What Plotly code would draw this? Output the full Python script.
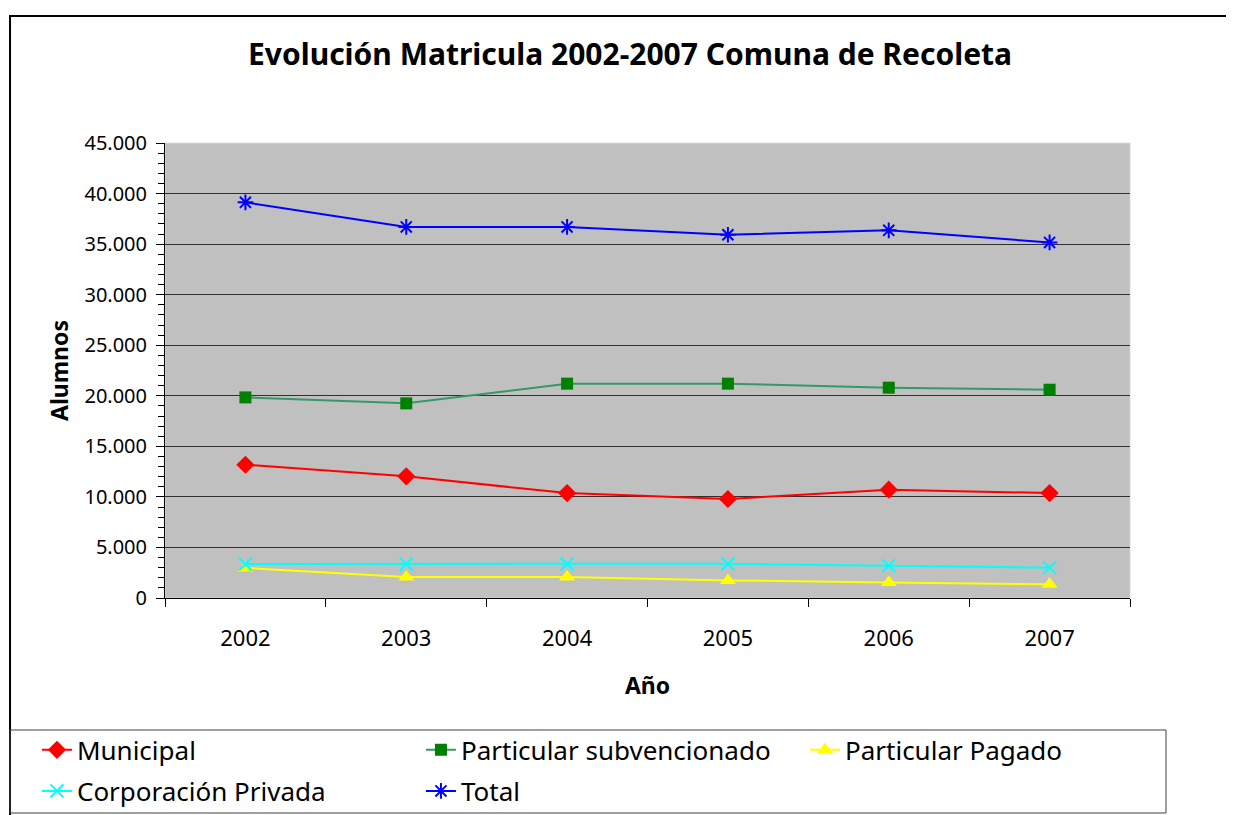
import plotly.graph_objects as go

years = ["2002", "2003", "2004", "2005", "2006", "2007"]
municipal = [13180, 12030, 10380, 9790, 10710, 10380]
subvencionado = [19840, 19250, 21200, 21200, 20800, 20600]
pagado = [2970, 2080, 2080, 1740, 1540, 1350]
corporacion = [3360, 3360, 3360, 3390, 3200, 3000]
total = [39130, 36700, 36700, 35930, 36360, 35170]

y_ticks = [0, 5000, 10000, 15000, 20000, 25000, 30000, 35000, 40000, 45000]

font_family = "Noto Sans, Lato, sans-serif"

fig = go.Figure()

fig.add_trace(go.Scatter(x=years, y=municipal, name="Municipal", mode="lines+markers",
    line=dict(color="#FF0000", width=2), legend="legend",
    marker=dict(symbol="diamond", size=14, color="#FF0000")))
fig.add_trace(go.Scatter(x=years, y=subvencionado, name="Particular subvencionado", mode="lines+markers",
    line=dict(color="#339966", width=2), legend="legend",
    marker=dict(symbol="square", size=12, color="#008000")))
fig.add_trace(go.Scatter(x=years, y=pagado, name="Particular Pagado", mode="lines+markers",
    line=dict(color="#FFFF00", width=2), legend="legend3",
    marker=dict(symbol="triangle-up", size=14, color="#FFFF00")))
fig.add_trace(go.Scatter(x=years, y=corporacion, name="Corporación Privada", mode="lines+markers",
    line=dict(color="#00FFFF", width=2), legend="legend2",
    marker=dict(symbol="x-thin-open", size=13, color="#00FFFF", line=dict(width=2, color="#00FFFF"))))
fig.add_trace(go.Scatter(x=years, y=total, name="Total", mode="lines+markers",
    line=dict(color="#0000FF", width=2), legend="legend2",
    marker=dict(symbol="asterisk-open", size=13, color="#0000FF", line=dict(width=2, color="#0000FF"))))

legend_style = dict(orientation="h", xanchor="left", yanchor="middle",
    entrywidth=339, entrywidthmode="pixels", borderwidth=0, bgcolor="rgba(0,0,0,0)",
    font=dict(size=26))

fig.update_layout(
    width=1226, height=807,
    margin=dict(l=157, r=104, t=135, b=217, autoexpand=False),
    paper_bgcolor="white",
    plot_bgcolor="#C0C0C0",
    separators=",.",
    font=dict(family=font_family, color="black", size=20),
    title=dict(text="<b>Evolución Matricula 2002-2007 Comuna de Recoleta</b>",
        x=0.4819, xref="paper", xanchor="center", y=0.9418, yanchor="middle",
        font=dict(size=30)),
    legend=dict(x=-0.1327, y=-0.334, **legend_style),
    legend3=dict(x=0.6632, y=-0.334, **legend_style),
    legend2=dict(x=-0.1327, y=-0.4242, **legend_style),
    showlegend=True,
)

fig.update_xaxes(
    type="category", range=[-0.5, 5.5], tickson="boundaries", ticks="outside", ticklen=8, tickcolor="black",
    showline=True, linecolor="black", linewidth=1, showgrid=False,
    tickfont=dict(size=22), ticklabelstandoff=21,
    title=dict(text="<b>Año</b>", font=dict(size=23), standoff=26),
)
fig.update_yaxes(
    range=[0, 45000], tickvals=y_ticks, tickformat=",d",
    ticks="outside", ticklen=8, tickcolor="black",
    minor=dict(ticks="outside", dtick=1000, ticklen=6, tickcolor="black", showgrid=False),
    showline=True, linecolor="black", linewidth=1,
    showgrid=True, gridcolor="#303030", gridwidth=1, zeroline=False,
    tickfont=dict(size=20), ticklabelstandoff=5,
    title=dict(text="<b>Alumnos</b>", font=dict(size=23), standoff=9),
)

# light edge on top and right of the plot area
fig.add_shape(type="rect", xref="x domain", yref="y domain",
    x0=0, x1=1, y0=0, y1=1,
    line=dict(color="#D9D9D9", width=1), fillcolor="rgba(0,0,0,0)", layer="below")
# chart area border
fig.add_shape(type="rect", xref="paper", yref="paper",
    x0=-0.1606, x1=1.2, y0=-0.6, y1=1.279,
    line=dict(color="black", width=2), fillcolor="rgba(0,0,0,0)", layer="below")
# legend box
fig.add_shape(type="rect", xref="paper", yref="paper",
    x0=-0.1606, x1=1.0373, y0=-0.4725, y1=-0.2901,
    line=dict(color="#404040", width=1), fillcolor="rgba(0,0,0,0)", layer="below")

fig.write_html("out.html")
